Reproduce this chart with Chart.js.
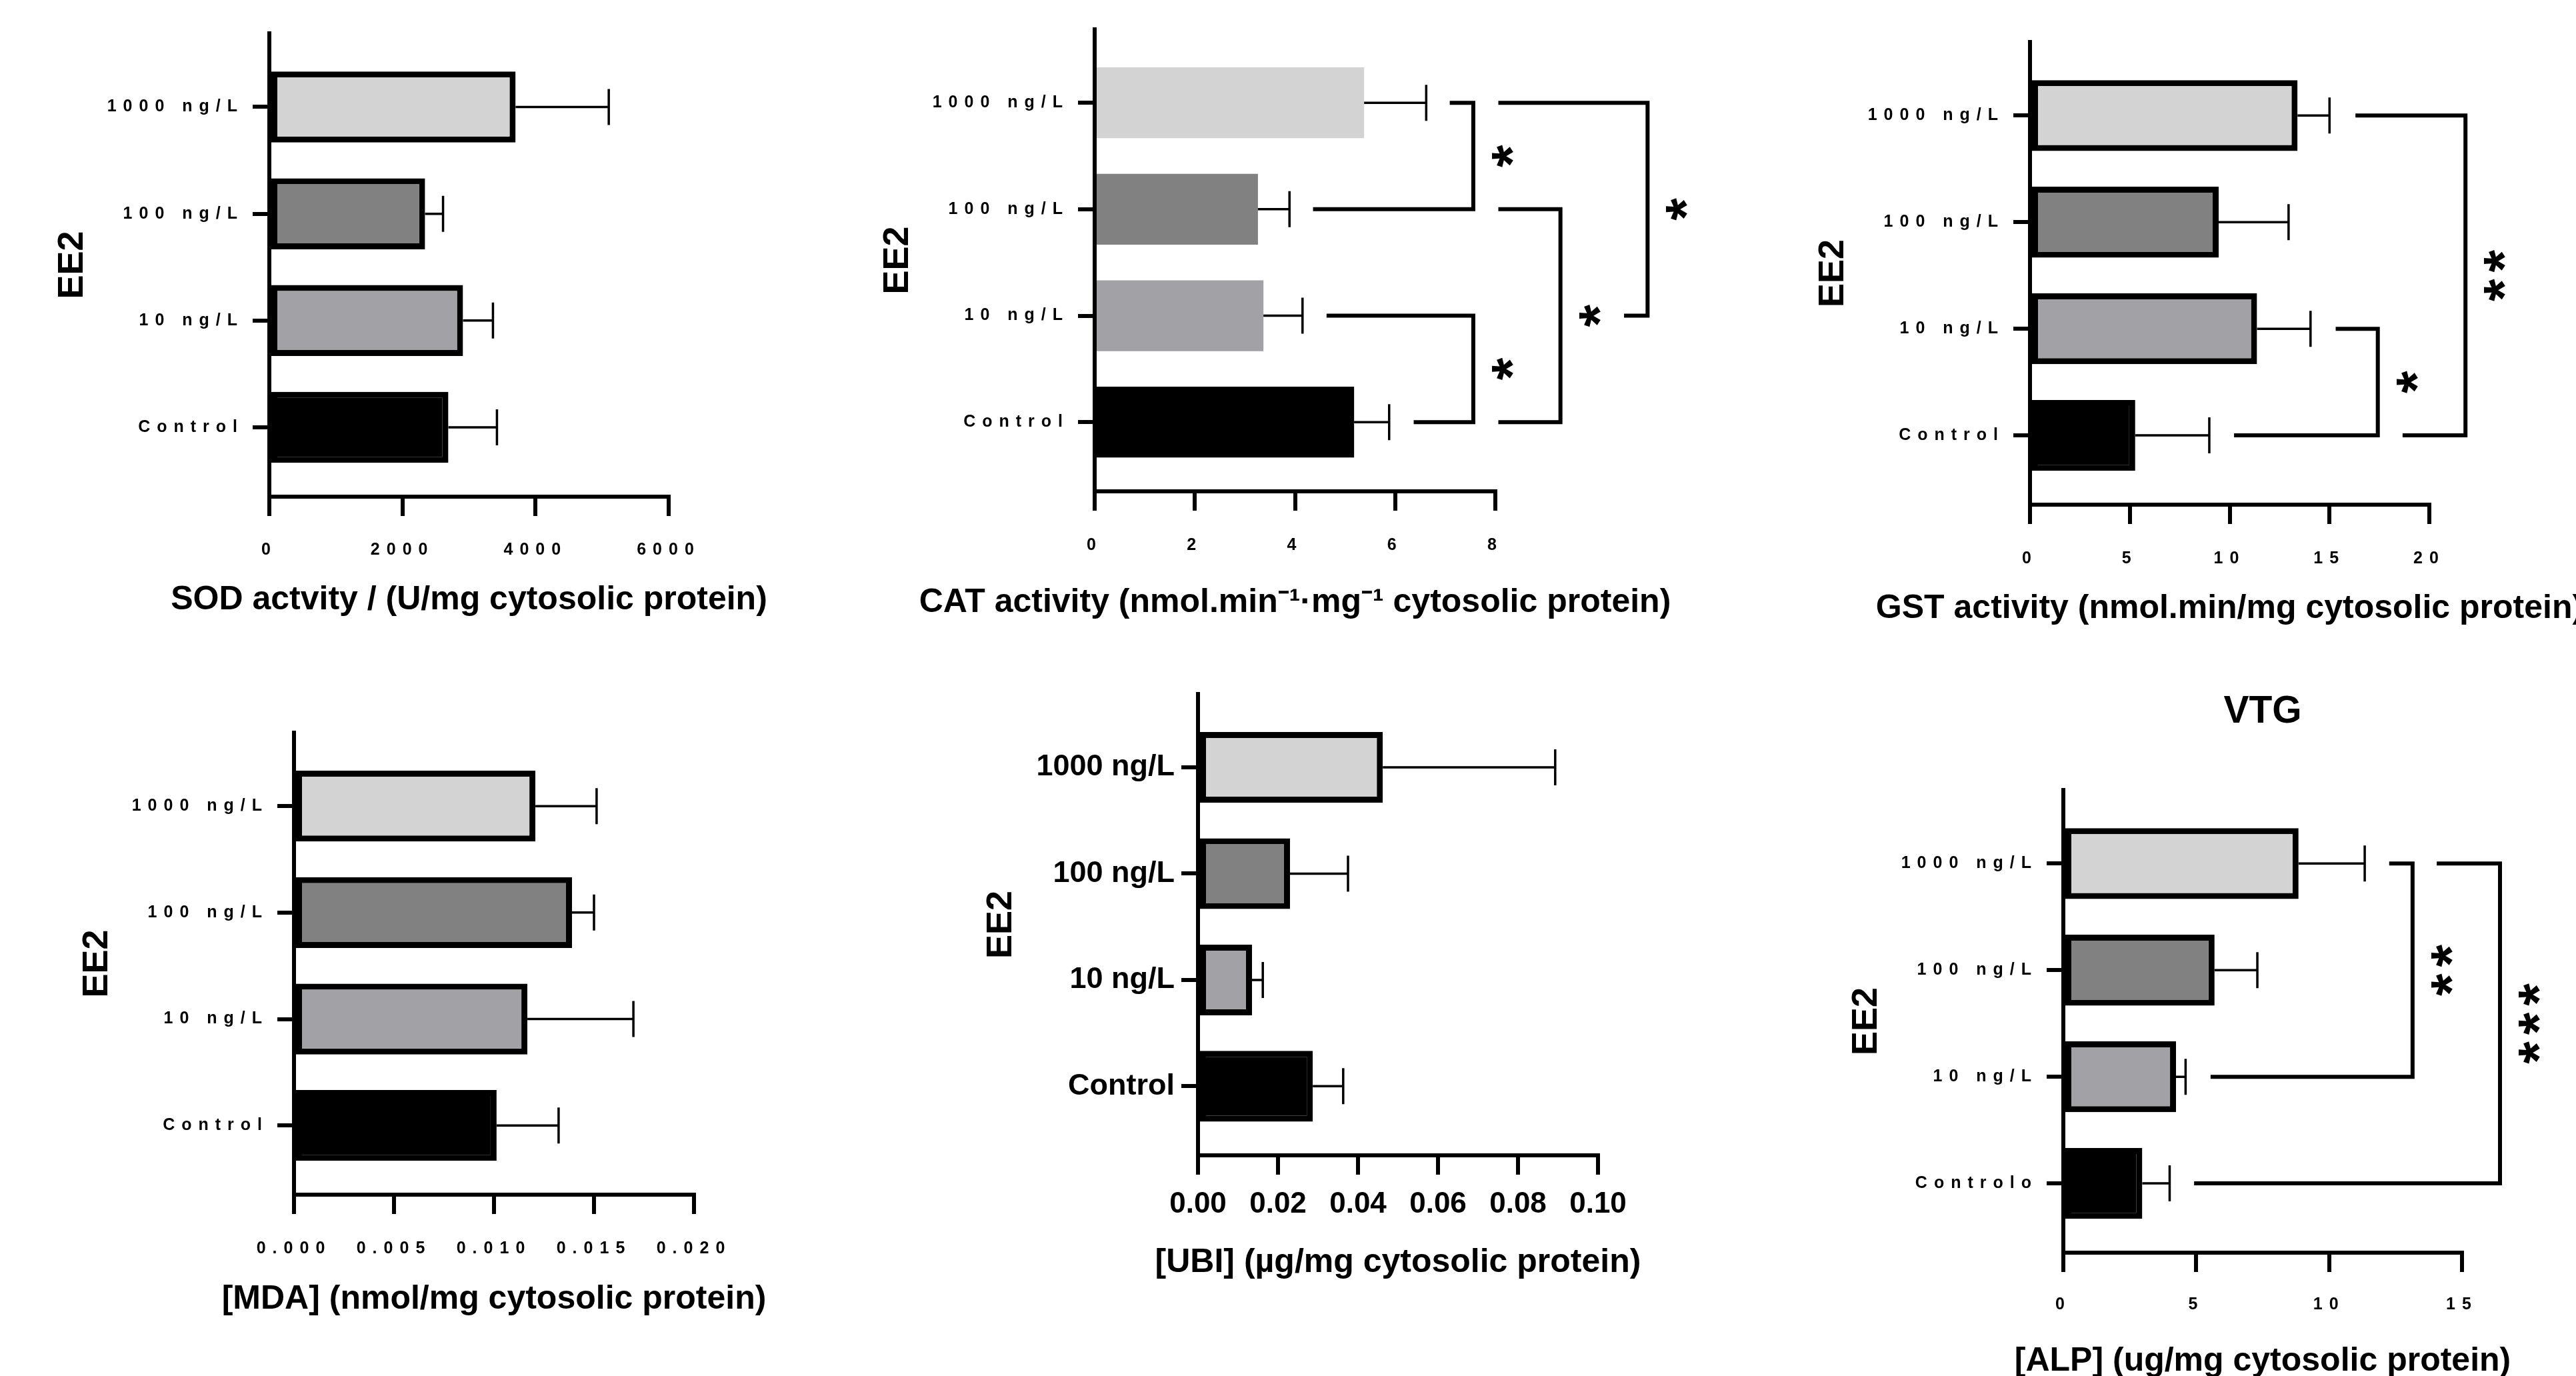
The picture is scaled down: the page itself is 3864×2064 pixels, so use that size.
<!DOCTYPE html>
<html>
<head>
<meta charset="utf-8">
<script src="https://cdn.jsdelivr.net/npm/chart.js@4.4.1/dist/chart.umd.min.js"></script>
<style>
  html, body { margin: 0; padding: 0; background: #ffffff; }
  body { width: 3864px; height: 2064px; position: relative; overflow: hidden; }
  canvas { position: absolute; }
</style>
</head>
<body>
<script>
// ---------------- data ----------------
const categories    = ['Control', '10 ng/L', '100 ng/L', '1000 ng/L'];
const categoriesVTG = ['Controlo', '10 ng/L', '100 ng/L', '1000 ng/L'];

const sodMean = [2690, 2910, 2340, 3700];
const sodSd   = [730, 450, 270, 1400];
const catMean = [5.18, 3.37, 3.26, 5.38];
const catSd   = [0.70, 0.78, 0.63, 1.24];
const gstMean = [5.27, 11.37, 9.45, 13.40];
const gstSd   = [3.71, 2.68, 3.50, 1.60];
const mdaMean = [0.01013, 0.01167, 0.0139, 0.01207];
const mdaSd   = [0.0031, 0.0053, 0.0011, 0.00306];
const ubiMean = [0.0287, 0.0135, 0.0230, 0.0462];
const ubiSd   = [0.0076, 0.0027, 0.0145, 0.0431];
const vtgMean = [2.97, 4.24, 5.69, 8.85];
const vtgSd   = [1.03, 0.36, 1.61, 2.49];

const sodTicks = [0, 2000, 4000, 6000];
const sodTickLabels = ['0', '2000', '4000', '6000'];
const catTicks = [0, 2, 4, 6, 8];
const catTickLabels = ['0', '2', '4', '6', '8'];
const gstTicks = [0, 5, 10, 15, 20];
const gstTickLabels = ['0', '5', '10', '15', '20'];
const mdaTicks = [0, 0.005, 0.010, 0.015, 0.020];
const mdaTickLabels = ['0.000', '0.005', '0.010', '0.015', '0.020'];
const ubiTicks = [0, 0.02, 0.04, 0.06, 0.08, 0.10];
const ubiTickLabels = ['0.00', '0.02', '0.04', '0.06', '0.08', '0.10'];
const vtgTicks = [0, 5, 10, 15];
const vtgTickLabels = ['0', '5', '10', '15'];

// significance brackets (rows = category indices, values in axis units)
const catBrackets = [
  { rows: [3, 2], starts: [7.09, 4.36], at: 7.56, text: '*' },
  { rows: [1, 0], starts: [4.63, 6.37], at: 7.56, text: '*' },
  { rows: [2, 0], starts: [8.06, 8.06], at: 9.30, text: '*' },
  { rows: [3, 1], starts: [8.06, 10.57], at: 11.04, text: '*' }
];
const gstBrackets = [
  { rows: [1, 0], starts: [15.31, 10.22], at: 17.42, text: '*' },
  { rows: [3, 0], starts: [16.30, 18.66], at: 21.81, text: '**' }
];
const vtgBrackets = [
  { rows: [3, 1], starts: [12.26, 5.54], at: 13.14, text: '**' },
  { rows: [3, 0], starts: [14.05, 4.92], at: 16.43, text: '***' }
];

// ---------------- style ----------------
const barColors = ['#000000', '#a2a1a6', '#818181', '#d3d3d3'];
const FONT = "'Liberation Sans', Arial, sans-serif";
Chart.defaults.font.family = FONT;
Chart.defaults.color = '#000';

const EE2_SIZE = 54;
const WY = Math.round(295 + EE2_SIZE * 0.6);   // width of the y scale box
const PT = 40;    // top padding
const LS = 10;    // letter spacing of small labels

const annotPlugin = {
  id: 'annot',
  afterDatasetsDraw(chart, args, opts) {
    const ctx = chart.ctx;
    const xs = chart.scales.x, ys = chart.scales.y;
    ctx.save();
    ctx.letterSpacing = '0px';
    ctx.strokeStyle = '#000';
    ctx.fillStyle = '#000';
    chart.data.datasets.forEach(ds => {
      const sd = ds.errorPlus;
      if (!sd) return;
      ds.data.forEach((pt, i) => {
        const x0 = xs.getPixelForValue(pt.x);
        const x1 = xs.getPixelForValue(pt.x + sd[i]);
        const y = ys.getPixelForValue(pt.y);
        ctx.lineWidth = opts.errWidth;
        ctx.lineCap = 'butt';
        ctx.beginPath();
        ctx.moveTo(x0, y); ctx.lineTo(x1, y);
        ctx.moveTo(x1, y - opts.capHalf); ctx.lineTo(x1, y + opts.capHalf);
        ctx.stroke();
      });
    });
    (opts.brackets || []).forEach(b => {
      const yA = ys.getPixelForValue(b.rows[0]);
      const yB = ys.getPixelForValue(b.rows[1]);
      const xA = xs.getPixelForValue(b.starts[0]);
      const xB = xs.getPixelForValue(b.starts[1]);
      const xV = xs.getPixelForValue(b.at);
      ctx.lineWidth = opts.bracketWidth;
      ctx.lineJoin = 'miter';
      ctx.lineCap = 'butt';
      ctx.beginPath();
      ctx.moveTo(xA, yA); ctx.lineTo(xV, yA); ctx.lineTo(xV, yB); ctx.lineTo(xB, yB);
      ctx.stroke();
      ctx.save();
      ctx.font = 'bold ' + opts.starSize + 'px ' + FONT;
      ctx.letterSpacing = LS + 'px';
      ctx.textAlign = 'left';
      ctx.textBaseline = 'alphabetic';
      const m = ctx.measureText(b.text);
      ctx.translate(xV + opts.labelOffset, (yA + yB) / 2);
      ctx.rotate(-Math.PI / 2);
      ctx.fillText(b.text,
        -(m.actualBoundingBoxRight - m.actualBoundingBoxLeft) / 2,
        (m.actualBoundingBoxAscent - m.actualBoundingBoxDescent) / 2);
      ctx.restore();
    });
    ctx.restore();
  }
};

// letter-spaced tick labels, and axis titles not squeezed to the axis length
function tune(ls) {
  return function (scale) {
    if (scale.$tuned) return;
    const origLabels = scale.drawLabels;
    scale.drawLabels = function (area) {
      const c = this.ctx;
      const prev = c.letterSpacing;
      c.letterSpacing = ls + 'px';
      origLabels.call(this, area);
      c.letterSpacing = prev;
    };
    const origTitle = scale.drawTitle;
    scale.drawTitle = function () {
      if (this.isHorizontal()) {
        const l = this.left, r = this.right;
        this.left = l - 2000; this.right = r + 2000;
        origTitle.call(this);
        this.left = l; this.right = r;
      } else {
        origTitle.call(this);
      }
    };
    scale.$tuned = true;
  };
}

const panels = [
  { cats: categories, mean: sodMean, sd: sodSd, border: true, xMax: 6000, ticks: sodTicks, tickLabels: sodTickLabels,
    xTitle: 'SOD actvity / (U/mg cytosolic protein)',
    axisX: 404, axisRight: 1003, axisTop: 50, axisBottom: 745, padR: 200, titleOff: 155, labOff: 80 },
  { cats: categories, mean: catMean, sd: catSd, border: false, xMax: 8, ticks: catTicks, tickLabels: catTickLabels,
    xTitle: 'CAT activity (nmol.min\u207B\u00B9\u00B7mg\u207B\u00B9 cytosolic protein)', brackets: catBrackets,
    axisX: 1642, axisRight: 2243, axisTop: 44, axisBottom: 737, padR: 330, titleOff: 167, labOff: 81 },
  { cats: categories, mean: gstMean, sd: gstSd, border: true, xMax: 20, ticks: gstTicks, tickLabels: gstTickLabels,
    xTitle: 'GST activity (nmol.min/mg cytosolic protein)', brackets: gstBrackets,
    axisX: 3045, axisRight: 3644, axisTop: 63, axisBottom: 757, padR: 300, titleOff: 156, labOff: 81 },
  { cats: categories, mean: mdaMean, sd: mdaSd, border: true, xMax: 0.02, ticks: mdaTicks, tickLabels: mdaTickLabels,
    xTitle: '[MDA] (nmol/mg cytosolic protein)',
    axisX: 441, axisRight: 1041, axisTop: 1099, axisBottom: 1792, padR: 200, titleOff: 157, labOff: 81 },
  { cats: categories, mean: ubiMean, sd: ubiSd, border: true, xMax: 0.10, ticks: ubiTicks, tickLabels: ubiTickLabels,
    xTitle: '[UBI] (\u00B5g/mg cytosolic protein)', big: true,
    axisX: 1797, axisRight: 2397, axisTop: 1041, axisBottom: 1733, padR: 200, titleOff: 161, labOff: 74 },
  { cats: categoriesVTG, mean: vtgMean, sd: vtgSd, border: true, xMax: 15, ticks: vtgTicks, tickLabels: vtgTickLabels,
    xTitle: '[ALP] (ug/mg cytosolic protein)', brackets: vtgBrackets, title: 'VTG', titleCenterY: 1068,
    axisX: 3095, axisRight: 3693, axisTop: 1185, axisBottom: 1879, padR: 300, titleOff: 163, labOff: 78 }
];

panels.forEach(p => {
  const cv = document.createElement('canvas');
  document.body.appendChild(cv);
  const titleSize = 57, titleLH = titleSize * 1.2;
  const left = p.axisX - WY;
  const top = p.title ? Math.round(p.titleCenterY - titleLH / 2) : p.axisTop - PT;
  const right = Math.min(3864, p.axisRight + p.padR);
  const padRight = right - p.axisRight;
  const HX = p.titleOff + 30;
  const width = right - left;
  const height = Math.min(2064, p.axisBottom + HX) - top;
  const hx = p.axisBottom + HX - top - height;
  cv.width = width; cv.height = p.axisBottom + HX - top;
  cv.style.left = left + 'px'; cv.style.top = top + 'px';
  cv.style.width = width + 'px'; cv.style.height = (p.axisBottom + HX - top) + 'px';

  const yFont = p.big ? 45 : 25, xFont = p.big ? 44 : 25;
  const tlX = 29, tlY = 25;
  const ls = p.big ? 0 : LS;

  new Chart(cv, {
    type: 'bar',
    data: {
      datasets: [{
        data: p.mean.map((v, i) => ({ x: v, y: i })),
        errorPlus: p.sd,
        backgroundColor: barColors,
        borderColor: '#000',
        borderWidth: p.border ? 9 : 0,
        borderSkipped: false,
        barPercentage: 0.665,
        categoryPercentage: 1.0
      }]
    },
    options: {
      indexAxis: 'y',
      responsive: false,
      animation: false,
      devicePixelRatio: 1,
      events: [],
      layout: { padding: { left: 0, top: p.title ? 0 : PT, right: padRight, bottom: 0 } },
      scales: {
        y: {
          type: 'linear',
          offset: false,
          bounds: 'data',
          min: -0.65, max: 3.69,
          afterBuildTicks: s => { s.ticks = p.cats.map((c, i) => ({ value: i })); },
          afterFit: s => { s.width = WY; tune(ls)(s); },
          ticks: {
            autoSkip: false,
            padding: p.big ? 10 : 13,
            font: { size: yFont, weight: 'bold' },
            color: '#000',
            callback: (v, i) => p.cats[i]
          },
          grid: { display: true, offset: false, drawOnChartArea: false, drawTicks: true, tickLength: tlY, tickWidth: 6, tickColor: '#000', color: '#000', lineWidth: 6 },
          border: { display: true, width: 6, color: '#000' },
          title: { display: true, text: 'EE2', font: { size: EE2_SIZE, weight: 'bold' }, padding: 0, color: '#000' }
        },
        x: {
          type: 'linear',
          offset: false,
          min: 0, max: p.xMax,
          afterBuildTicks: s => { s.ticks = p.ticks.map(v => ({ value: v })); },
          afterFit: s => { s.height = HX; tune(ls)(s); },
          ticks: {
            autoSkip: false,
            maxRotation: 0, minRotation: 0,
            padding: p.labOff - tlX - xFont * 0.6,
            font: { size: xFont, weight: 'bold' },
            color: '#000',
            callback: (v, i) => p.tickLabels[i]
          },
          grid: { display: true, offset: false, drawOnChartArea: false, drawTicks: true, tickLength: tlX, tickWidth: 6, tickColor: '#000', color: '#000', lineWidth: 6 },
          border: { display: true, width: 6, color: '#000' },
          title: { display: true, text: p.xTitle, font: { size: 50, weight: 'bold' }, padding: 0, color: '#000' }
        }
      },
      plugins: {
        legend: { display: false },
        tooltip: { enabled: false },
        title: p.title ? {
          display: true, text: p.title, fullSize: false,
          font: { size: titleSize, weight: 'bold' }, color: '#000',
          padding: { top: 0, bottom: p.axisTop - top - titleLH }
        } : { display: false },
        annot: { brackets: p.brackets || [], errWidth: 3.5, capHalf: 27, bracketWidth: 6, labelOffset: 44, starSize: 86 }
      }
    },
    plugins: [annotPlugin]
  });
});
</script>
</body>
</html>
